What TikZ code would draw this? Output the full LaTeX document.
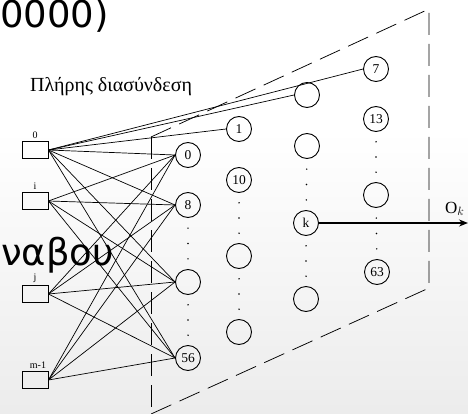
\documentclass[tikz,border=0pt]{standalone}
\usepackage{fontspec}
\setmainfont{Liberation Serif}
\newfontfamily\ovlfont{DejaVu Sans}
\usetikzlibrary{arrows.meta, positioning, calc}

% three dots between two neurons of one column
\newcommand{\gapdots}[2]{\foreach \f in {0.3,0.5,0.7} \fill ($(#1)!\f!(#2)$) circle (0.8pt);}

\begin{document}
\begin{tikzpicture}[x=1pt, y=-1pt, >=Stealth,
      neuron/.style={draw, circle, minimum size=25pt, inner sep=0pt, line width=0.9pt,
                     font=\fontsize{13.5}{13.5}\selectfont},
      inbox/.style={draw, minimum width=26pt, minimum height=17pt, inner sep=0pt, line width=0.9pt},
      inlbl/.style={font=\fontsize{10}{10}\selectfont, anchor=south, inner sep=2pt},
      link/.style={line width=0.7pt},
      wall/.style={dash pattern=on 22pt off 9pt, line width=0.75pt},
      ovl/.style={font=\ovlfont\fontsize{37}{37}\selectfont, inner sep=0pt}]

    \useasboundingbox (0,0) rectangle (468,414);
    \clip (0,0) rectangle (468,414);
    \shade[top color=white, bottom color=gray!15] (0,130) rectangle (468,414);

    % overlay text of the frame
    \node[ovl, anchor=base west] (ovtop) at (0,28) {0000)};

    % title
    \node[font=\fontsize{20}{20}\selectfont, anchor=base west, inner sep=0pt] (title) at (30,92)
      {Πλήρης διασύνδεση};

    % dashed perspective plane
    \draw[wall] (151,137) -- (429,9) -- (429,288) -- (151,414);
    \draw[wall] (151,137) -- (151,414);

    % input boxes
    \node[inbox] (b0) at (35,150) {};
    \node[inbox] (bi) at (35,201) {};
    \node[inbox] (bj) at (35,294) {};
    \node[inbox] (bm) at (35,380) {};
    \node[inlbl] at (b0.north) {0};
    \node[inlbl] at (bi.north) {i};
    \node[inlbl] at (bj.north) {j};
    \node[inlbl, xshift=3pt] at (bm.north) {m-1};

    % neuron columns, front to back
    \node[neuron] (h10) at (188,155) {0};
    \node[neuron] (h11) at (188,205) {8};
    \node[neuron] (h12) at (188,282) {};
    \node[neuron] (h13) at (188,358) {56};

    \node[neuron] (h20) at (239,129) {1};
    \node[neuron] (h21) at (239,180) {10};
    \node[neuron] (h22) at (239,256) {};
    \node[neuron] (h23) at (239,332) {};

    \node[neuron] (h30) at (307,95)  {};
    \node[neuron] (h31) at (307,146) {};
    \node[neuron] (h32) at (306,223) {k};
    \node[neuron] (h33) at (306,299) {};

    \node[neuron] (h40) at (376,69)  {7};
    \node[neuron] (h41) at (376,119) {13};
    \node[neuron] (h42) at (376,195) {};
    \node[neuron] (h43) at (377,272) {63};

    \gapdots{h11}{h12} \gapdots{h12}{h13}
    \gapdots{h21}{h22} \gapdots{h22}{h23}
    \gapdots{h31}{h32} \gapdots{h32}{h33}
    \gapdots{h41}{h42} \gapdots{h42}{h43}

    % full connection to the front column
    \foreach \b in {b0,bi,bj,bm}
      \foreach \h in {h10,h11,h12,h13}
        \draw[link] (\b.east) -- (\h.west);
    \draw[link] (b0.east) -- (h20.west);
    \draw[link] (b0.east) -- (h30.west);
    \draw[link] (b0.east) -- (h40.west);

    % output of neuron k
    \coordinate (out) at (468,223);
    \draw[-{Stealth[length=9pt, width=7pt]}, line width=2pt] (h32.east) -- (out);
    \node[font=\fontsize{17}{17}\selectfont, anchor=base west, inner sep=0pt] (olbl) at (445,213) {O$_k$};

    % overlay text across the inputs
    \node[ovl, anchor=base west] (ovmid) at (1,265) {ναβου};

\end{tikzpicture}
\end{document}
